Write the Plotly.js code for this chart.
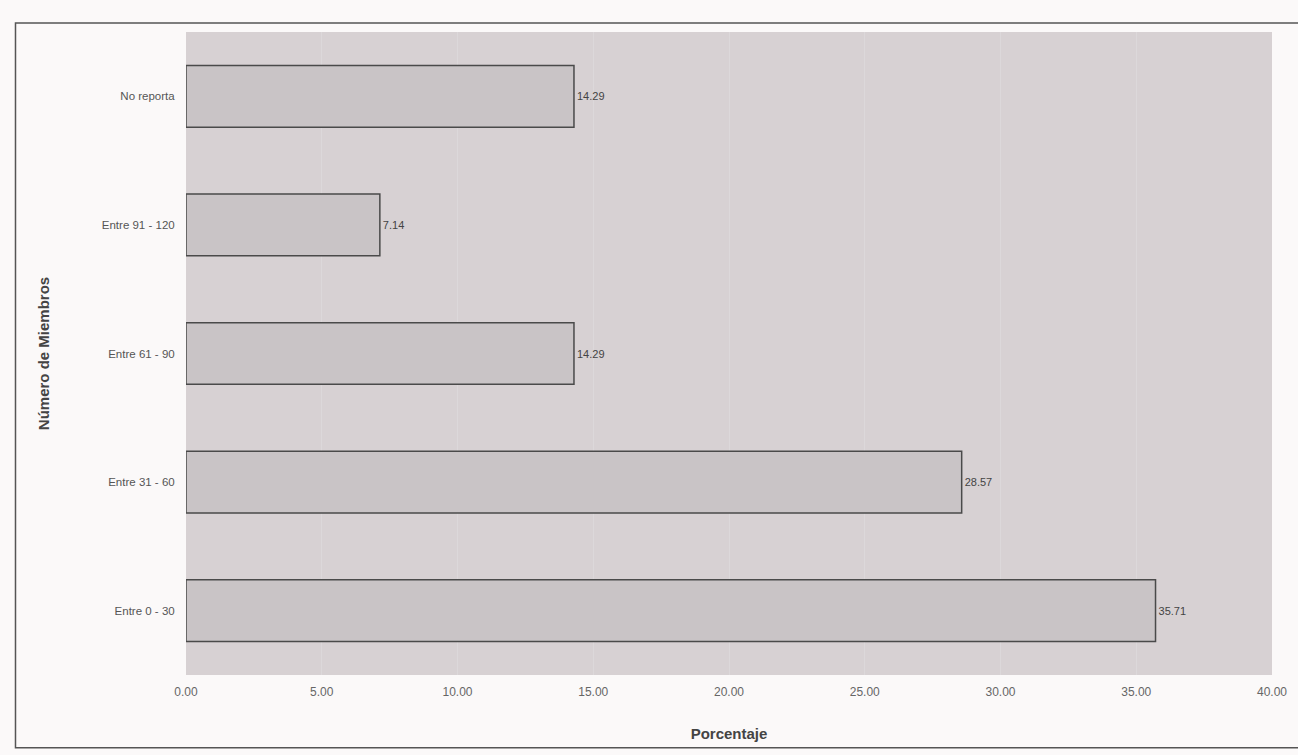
<!DOCTYPE html>
<html>
<head>
<meta charset="utf-8">
<script src="https://cdn.plot.ly/plotly-3.0.1.min.js"></script>
<style>html,body{margin:0;padding:0;background:#fbf9f9;}#chart{width:1298px;height:755px;}</style>
</head>
<body>
<div id="chart"></div>
<script>
const categories = ["Entre 0 - 30", "Entre 31 - 60", "Entre 61 - 90", "Entre 91 - 120", "No reporta"];
const values = [35.71, 28.57, 14.29, 7.14, 14.29];
const xTickValues = [0, 5, 10, 15, 20, 25, 30, 35, 40];
const xTickLabels = ["0.00", "5.00", "10.00", "15.00", "20.00", "25.00", "30.00", "35.00", "40.00"];

const trace = {
  type: 'bar',
  orientation: 'h',
  y: categories,
  x: values,
  text: values.map(v => v.toFixed(2)),
  textposition: 'outside',
  textfont: {family: 'Liberation Sans, Arial, sans-serif', size: 11, color: '#444'},
  cliponaxis: false,
  marker: {color: '#c9c4c6', line: {color: '#4a4a4a', width: 1.5}},
  hoverinfo: 'none'
};

const layout = {
  width: 1298, height: 755,
  paper_bgcolor: '#fbf9f9',
  plot_bgcolor: '#d7d1d3',
  margin: {l: 186, r: 26, t: 32, b: 80},
  bargap: 0.52,
  showlegend: false,
  font: {family: 'Liberation Sans, Arial, sans-serif', color: '#555'},
  xaxis: {
    range: [0, 40],
    tickvals: xTickValues,
    ticktext: xTickLabels,
    tickfont: {size: 12, color: '#666'},
    showgrid: true,
    gridcolor: '#dcd8da',
    gridwidth: 1,
    zeroline: false,
    showline: false,
    ticks: 'outside',
    ticklen: 6,
    tickcolor: 'rgba(0,0,0,0)',
    title: {text: 'Porcentaje', font: {size: 15, color: '#444', family: 'Liberation Sans, Arial, sans-serif', weight: 'bold'}, standoff: 30}
  },
  yaxis: {
    categoryorder: 'array',
    categoryarray: categories,
    tickfont: {size: 11.5, color: '#555'},
    showgrid: false,
    zeroline: false,
    showline: false,
    ticks: 'outside',
    ticklen: 8,
    tickcolor: 'rgba(0,0,0,0)',
    title: {text: 'Número de Miembros', font: {size: 15, color: '#444', family: 'Liberation Sans, Arial, sans-serif', weight: 'bold'}, standoff: 48}
  },
  shapes: [
    {type: 'rect', xref: 'paper', yref: 'paper', x0: -0.157, x1: 1.04, y0: -0.113, y1: 1.014, line: {color: '#555', width: 1.5}, fillcolor: 'rgba(0,0,0,0)', layer: 'below'}
  ]
};

Plotly.newPlot('chart', [trace], layout, {displayModeBar: false, staticPlot: true});
</script>
</body>
</html>
